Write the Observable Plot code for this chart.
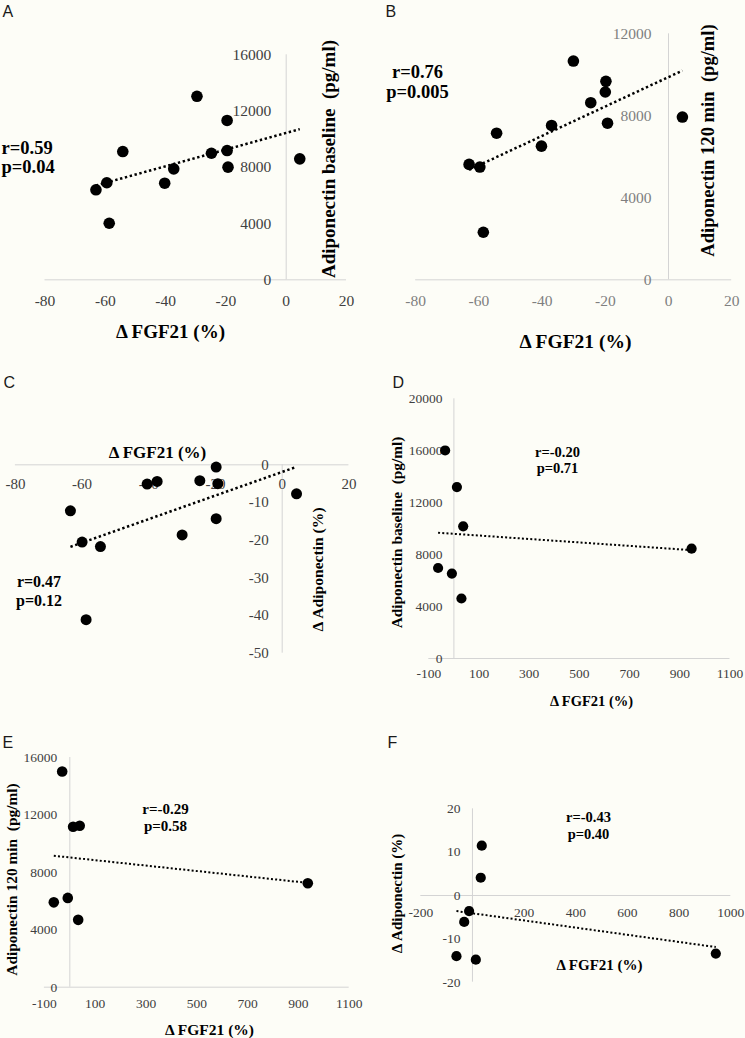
<!DOCTYPE html>
<html><head><meta charset="utf-8">
<script src="https://cdn.jsdelivr.net/npm/d3@7"></script>
<script src="https://cdn.jsdelivr.net/npm/@observablehq/plot@0.6"></script>
<style>
html,body{margin:0;padding:0;background:#fdfdf7;}
#fig{position:relative;width:745px;height:1038px;overflow:hidden;background:#fdfdf7;}
#fig svg{position:absolute;overflow:visible;}
</style></head>
<body><div id="fig"></div>
<script>
// ---- Data ----
// Panel A: ΔFGF21 (%) vs adiponectin baseline (pg/ml)
const fgfA = [-63.1, -59.5, -58.7, -54.2, -40.3, -37.3, -29.6, -24.8, -19.6, -19.6, -19.3, 4.5];
const adipoBaseA = [6400, 6900, 4020, 9120, 6870, 7890, 13050, 9000, 11330, 9190, 8010, 8600];
// Panel B: ΔFGF21 (%) vs adiponectin 120 min (pg/ml)
const fgfB = [-63.1, -59.7, -58.6, -54.4, -40.2, -37.0, -30.1, -24.6, -19.8, -20.0, -19.3, 4.4];
const adipo120B = [5630, 5500, 2320, 7150, 6520, 7530, 10670, 8640, 9680, 9160, 7640, 7940];
// Panel C: ΔFGF21 (%) vs Δ adiponectin (%)
const fgfC = [-63.5, -60.0, -58.8, -54.5, -40.5, -37.5, -30.0, -24.7, -19.8, -19.3, -19.8, 4.3];
const dAdipoC = [-12.2, -20.5, -41.1, -21.7, -5.1, -4.4, -18.6, -4.2, -0.6, -5.0, -14.3, -7.7];
// Panel D
const fgfD = [-63, -35, -8, 12, 30, 37, 947];
const adipoBaseD = [6970, 16020, 6540, 13200, 4620, 10180, 8460];
// Panel E
const fgfE = [-63, -30, -8, 13, 33, 39, 937];
const adipo120E = [5910, 15030, 6220, 11180, 4690, 11250, 7240];
// Panel F
const fgfF = [-62, -32, -13, 13, 32, 36, 942];
const dAdipoF = [-14.0, -6.1, -3.6, -14.8, 4.1, 11.5, -13.4];

// Tick labels
const ticksX1 = [-80, -60, -40, -20, 0, 20];
const ticksX2 = [-100, 100, 300, 500, 700, 900, 1100];
const ticksXF = [-200, 200, 400, 600, 800, 1000];
const ticksY16 = [0, 4000, 8000, 12000, 16000];
const ticksY12 = [0, 4000, 8000, 12000];
const ticksY20 = [0, 4000, 8000, 12000, 16000, 20000];
const ticksYC = [-50, -40, -30, -20, -10, 0];
const ticksYF = [-20, -10, 0, 10, 20];

// Texts
const xTitle = "Δ FGF21 (%)";
const yTitles = {
  base: "Adiponectin baseline\u00a0 (pg/ml)",
  m120: "Adiponectin 120 min\u00a0 (pg/ml)",
  delta: "Δ Adiponectin (%)"
};
const stats = {
  A: ["r=0.59", "p=0.04"], B: ["r=0.76", "p=0.005"], C: ["r=0.47", "p=0.12"],
  D: ["r=-0.20", "p=0.71"], E: ["r=-0.29", "p=0.58"], F: ["r=-0.43", "p=0.40"]
};

// ---- Layout ----
const SERIF = "'Liberation Serif','Times New Roman',serif";
const SANS = "'Liberation Sans',Arial,sans-serif";
const fig = document.getElementById("fig");

// least-squares trend line computed from the data, spanning the data's x extent
function trend(data) {
  const mx = d3.mean(data, d => d.x), my = d3.mean(data, d => d.y);
  const sxy = d3.sum(data, d => (d.x - mx) * (d.y - my));
  const sxx = d3.sum(data, d => (d.x - mx) ** 2);
  const b = sxy / sxx, a = my - b * mx;
  return d3.extent(data, d => d.x).map(x => ({x, y: a + b * x}));
}

function panel(c) {
  const ml = c.xPx[0] - c.left, mr = c.left + c.w - c.xPx[1];
  const mt = c.yPx[1] - c.top, mb = c.top + c.h - c.yPx[0];
  const px2x = d3.scaleLinear().domain(c.xPx).range(c.xDom);
  const py2y = d3.scaleLinear().domain(c.yPx).range(c.yDom);
  const data = c.xs.map((x, i) => ({x, y: c.ys[i]}));
  const lab = (t, px, py, o) => Plot.text([t], {
    x: () => px2x(px), y: () => py2y(py), text: d => d,
    lineAnchor: "middle", fontFamily: SERIF, fill: "#000", ...o
  });
  const marks = [
    Plot.ruleY([0], {x1: () => c.xDom[0], x2: () => c.xDom[1], stroke: "#d4d4d4", strokeWidth: 1}),
    Plot.ruleX([0], {y1: () => c.yDom[0], y2: () => c.yDom[1], stroke: "#d4d4d4", strokeWidth: 1}),
    Plot.text(c.yTicks, {x: () => 0, y: d => d, text: d => String(d), textAnchor: "end", dx: c.yDx,
      fill: c.tickColor, fontSize: c.tickSize, fontFamily: SERIF}),
    Plot.text(c.xTicks, {x: d => d, y: () => 0, text: d => String(d), dy: c.xDy,
      fill: c.tickColor, fontSize: c.tickSize, fontFamily: SERIF}),
    Plot.line(trend(data), {x: "x", y: "y", stroke: "#000",
      strokeWidth: c.lineW, strokeDasharray: c.dash, strokeLinecap: "butt"}),
    Plot.dot(data, {x: "x", y: "y", r: c.r, fill: "#000", strokeWidth: 0}),
    lab(c.letter, c.letterPos[0], c.letterPos[1], {textAnchor: "start", fontFamily: SANS, fontSize: 16, fill: "#1a1a1a"}),
    lab(xTitle, c.xtPos[0], c.xtPos[1], {fontWeight: "bold", fontSize: c.xtSize}),
    lab(c.yTitle, c.ytPos[0], c.ytPos[1], {fontWeight: "bold", fontSize: c.ytSize, rotate: -90}),
    lab(stats[c.letter][0], c.rPos[0], c.rPos[1], {fontWeight: "bold", fontSize: c.stSize, textAnchor: c.stAnchor}),
    lab(stats[c.letter][1], c.pPos[0], c.pPos[1], {fontWeight: "bold", fontSize: c.stSize, textAnchor: c.stAnchor})
  ];
  const svg = Plot.plot({
    width: c.w, height: c.h,
    marginLeft: ml, marginRight: mr, marginTop: mt, marginBottom: mb,
    x: {domain: c.xDom, axis: null},
    y: {domain: c.yDom, axis: null},
    style: {background: "transparent", fontFamily: SERIF, overflow: "visible"},
    marks
  });
  svg.style.left = c.left + "px";
  svg.style.top = c.top + "px";
  fig.appendChild(svg);
}

const big = {tickSize: 15.5, tickColor: "#404040", r: 5.8, lineW: 2.5, dash: "2.4,2.6"};
const small = {tickSize: 13.5, tickColor: "#404040", r: 5.1, lineW: 2, dash: "2,2.2"};

panel({...big, letter: "A", left: 0, top: 0, w: 372, h: 360,
  xDom: [-80, 20], xPx: [44.5, 346], yDom: [0, 16000], yPx: [279.3, 54.3],
  xs: fgfA, ys: adipoBaseA, xTicks: ticksX1, yTicks: ticksY16, yDx: -15, xDy: 21.5,
  letterPos: [2, 11], xtPos: [170, 331.5], xtSize: 19,
  yTitle: yTitles.base, ytPos: [328, 158.5], ytSize: 19,
  rPos: [1, 148], pPos: [1, 167], stSize: 18.5, stAnchor: "start"});

panel({...big, tickColor: "#7f7f7f", letter: "B", left: 372, top: 0, w: 373, h: 360,
  xDom: [-80, 20], xPx: [415.2, 731.2], yDom: [0, 12000], yPx: [279.3, 33.3],
  xs: fgfB, ys: adipo120B, xTicks: ticksX1, yTicks: ticksY12, yDx: -17, xDy: 21.5,
  letterPos: [385, 11], xtPos: [575, 341], xtSize: 19.5,
  yTitle: yTitles.m120, ytPos: [708, 140], ytSize: 18.6,
  rPos: [417, 72], pPos: [417, 92], stSize: 18.5, stAnchor: "middle"});

panel({...big, tickSize: 15, r: 5.5, letter: "C", left: 0, top: 360, w: 372, h: 360,
  xDom: [-80, 20], xPx: [14.9, 348.4], yDom: [-50, 0], yPx: [652.7, 464.3],
  xs: fgfC, ys: dAdipoC, xTicks: ticksX1, yTicks: ticksYC, yDx: -13.5, xDy: 19,
  letterPos: [3, 382.5], xtPos: [157, 451.7], xtSize: 17,
  yTitle: yTitles.delta, ytPos: [317, 569], ytSize: 15.6,
  rPos: [38.5, 581.7], pPos: [38.5, 600.7], stSize: 16, stAnchor: "middle"});

panel({...small, letter: "D", left: 372, top: 360, w: 373, h: 360,
  xDom: [-100, 1100], xPx: [428.3, 729.5], yDom: [0, 20000], yPx: [658, 398.3],
  xs: fgfD, ys: adipoBaseD, xTicks: ticksX2, yTicks: ticksY20, yDx: -11.5, xDy: 15.5,
  letterPos: [392, 382.5], xtPos: [591, 700.7], xtSize: 14.5,
  yTitle: yTitles.base, ytPos: [397, 532], ytSize: 15.3,
  rPos: [557, 451.7], pPos: [557, 468.3], stSize: 14.5, stAnchor: "middle"});

panel({...small, r: 5.3, letter: "E", left: 0, top: 720, w: 372, h: 318,
  xDom: [-100, 1100], xPx: [43.9, 348.7], yDom: [0, 16000], yPx: [986.7, 757],
  xs: fgfE, ys: adipo120E, xTicks: ticksX2, yTicks: ticksY16, yDx: -12.5, xDy: 16.6,
  letterPos: [2, 742.5], xtPos: [209, 1030], xtSize: 15.5,
  yTitle: yTitles.m120, ytPos: [12, 879], ytSize: 15.4,
  rPos: [165, 808.3], pPos: [165, 826], stSize: 15, stAnchor: "middle"});

panel({...small, letter: "F", left: 372, top: 720, w: 373, h: 318,
  xDom: [-200, 1000], xPx: [420.3, 730.3], yDom: [-20, 20], yPx: [981.7, 808.3],
  xs: fgfF, ys: dAdipoF, xTicks: ticksXF, yTicks: ticksYF, yDx: -12, xDy: 17,
  letterPos: [387, 742.5], xtPos: [599, 965], xtSize: 15,
  yTitle: yTitles.delta, ytPos: [397, 893], ytSize: 15,
  rPos: [588, 816.7], pPos: [588, 834.3], stSize: 14.5, stAnchor: "middle"});
</script>
</body></html>
